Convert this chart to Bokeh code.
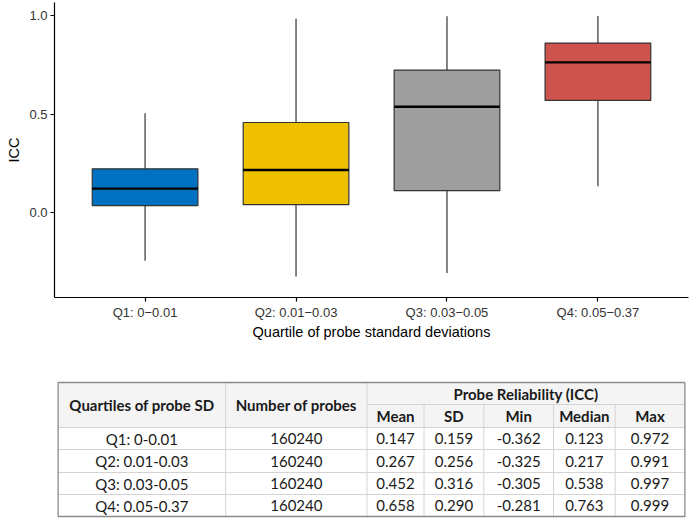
from bokeh.plotting import figure
from bokeh.models import FactorRange, Range1d, FixedTicker, NumeralTickFormatter, ColumnDataSource
from bokeh.layouts import column
from bokeh.core.properties import value
from bokeh.transform import dodge
from bokeh.embed import file_html
from bokeh.resources import INLINE

# ---------------- data ----------------
categories = ["Q1: 0\u22120.01", "Q2: 0.01\u22120.03", "Q3: 0.03\u22120.05", "Q4: 0.05\u22120.37"]
whisker_low = [-0.244, -0.323, -0.306, 0.134]
box_low = [0.036, 0.041, 0.112, 0.570]
box_median = [0.123, 0.217, 0.538, 0.763]
box_high = [0.223, 0.458, 0.724, 0.861]
whisker_high = [0.505, 0.985, 0.997, 0.999]
box_colors = ["#0070C0", "#EFC000", "#9E9E9E", "#CD534C"]
y_ticks = [0.0, 0.5, 1.0]

table_quartiles = ["Q1: 0-0.01", "Q2: 0.01-0.03", "Q3: 0.03-0.05", "Q4: 0.05-0.37"]
table_n_probes = [160240, 160240, 160240, 160240]
table_mean = [0.147, 0.267, 0.452, 0.658]
table_sd = [0.159, 0.256, 0.316, 0.290]
table_min = [-0.362, -0.325, -0.305, -0.281]
table_median = [0.123, 0.217, 0.538, 0.763]
table_max = [0.972, 0.991, 0.997, 0.999]
header_main = ["Quartiles of probe SD", "Number of probes"]
header_group = "Probe Reliability (ICC)"
header_sub = ["Mean", "SD", "Min", "Median", "Max"]

# ---------------- box plot ----------------
W, H1, H2 = 700, 345, 176
BOX_W = 0.7
p = figure(width=W, height=H1,
           x_range=FactorRange(factors=categories, range_padding=0.1, range_padding_units="absolute"),
           y_range=Range1d(-0.430, 1.067),
           output_backend="svg", toolbar_location=None,
           min_border_left=54, min_border_right=12, min_border_top=2, min_border_bottom=48)
p.outline_line_color = None
p.xgrid.grid_line_color = None
p.ygrid.grid_line_color = None
p.background_fill_color = "white"
p.border_fill_color = "white"

src = ColumnDataSource(dict(x=categories, wl=whisker_low, bl=box_low, med=box_median,
                            bh=box_high, wh=whisker_high, c=box_colors))
p.segment(x0="x", y0="bh", x1="x", y1="wh", source=src, line_color="#333333", line_width=1.2)
p.segment(x0="x", y0="bl", x1="x", y1="wl", source=src, line_color="#333333", line_width=1.2)
p.vbar(x="x", width=BOX_W, bottom="bl", top="bh", source=src, fill_color="c",
       line_color="#333333", line_width=1.2)
p.segment(x0=dodge("x", -BOX_W / 2, range=p.x_range), y0="med",
          x1=dodge("x", BOX_W / 2, range=p.x_range), y1="med", source=src,
          line_color="black", line_width=2.3)

for ax in (p.xaxis[0], p.yaxis[0]):
    ax.axis_line_color = "black"
    ax.axis_line_width = 1.2
    ax.major_tick_line_color = "black"
    ax.major_tick_line_width = 1.2
    ax.major_tick_out = 4
    ax.major_tick_in = 0
    ax.minor_tick_line_color = None
    ax.major_label_text_font = "Liberation Sans"
    ax.major_label_text_font_size = "13px"
    ax.major_label_text_color = "#333333"
    ax.axis_label_text_font = "Liberation Sans"
    ax.axis_label_text_font_size = "14.5px"
    ax.axis_label_text_font_style = "normal"
    ax.axis_label_text_color = "black"
    ax.major_label_standoff = 3

p.yaxis.ticker = FixedTicker(ticks=y_ticks)
p.yaxis.formatter = NumeralTickFormatter(format="0.0")
p.yaxis.axis_label = "ICC"
p.yaxis.axis_label_standoff = 4
p.xaxis.axis_label = "Quartile of probe standard deviations"
p.xaxis.axis_label_standoff = 1

# ---------------- table ----------------
t = figure(width=W, height=H2, x_range=Range1d(0, W), y_range=Range1d(H1 + H2, H1),
           output_backend="svg", toolbar_location=None,
           min_border=0, min_border_left=0, min_border_right=0, min_border_top=0, min_border_bottom=0)
t.axis.visible = False
t.xgrid.grid_line_color = None
t.ygrid.grid_line_color = None
t.outline_line_color = None

col_edges = [4, 189, 345, 408, 474, 551, 619, 696]
row_edges = [382, 404, 427, 449, 472, 494, 516]
font = value("Lato")
fs = "15px"

# header background
t.quad(left=[col_edges[0]], right=[col_edges[-1]], top=[row_edges[0]], bottom=[row_edges[2]],
       fill_color="#F4F4F4", line_color=None)
# inner horizontal lines
t.segment(x0=[col_edges[2]], y0=[row_edges[1]], x1=[col_edges[-1]], y1=[row_edges[1]],
          line_color="#D4D4D4", line_width=1)
t.segment(x0=[col_edges[0]] * 4, y0=row_edges[2:6], x1=[col_edges[-1]] * 4, y1=row_edges[2:6],
          line_color="#D4D4D4", line_width=1)
# vertical lines
t.segment(x0=col_edges[1:3], y0=[row_edges[0]] * 2, x1=col_edges[1:3], y1=[row_edges[-1]] * 2,
          line_color="#D4D4D4", line_width=1)
t.segment(x0=col_edges[3:7], y0=[row_edges[1]] * 4, x1=col_edges[3:7], y1=[row_edges[-1]] * 4,
          line_color="#D4D4D4", line_width=1)
# outer border
t.quad(left=[col_edges[0]], right=[col_edges[-1]], top=[row_edges[0]], bottom=[row_edges[-1]],
       fill_color=None, line_color="#8A8A8A", line_width=1.3)

centers = [(col_edges[i] + col_edges[i + 1]) / 2 for i in range(len(col_edges) - 1)]
# headers
t.text(x=centers[:2], y=[(row_edges[0] + row_edges[2]) / 2] * 2, text=header_main,
       text_align="center", text_baseline="middle", text_font=font, text_font_size=fs,
       text_font_style="bold", text_color="#1A1A1A")
t.text(x=[(col_edges[2] + col_edges[-1]) / 2], y=[(row_edges[0] + row_edges[1]) / 2],
       text=[header_group], text_align="center", text_baseline="middle", text_font=font,
       text_font_size=fs, text_font_style="bold", text_color="#1A1A1A")
t.text(x=centers[2:], y=[(row_edges[1] + row_edges[2]) / 2] * 5, text=header_sub,
       text_align="center", text_baseline="middle", text_font=font, text_font_size=fs,
       text_font_style="bold", text_color="#1A1A1A")

# body
cols_vals = [table_quartiles,
             [str(v) for v in table_n_probes],
             [f"{v:.3f}" for v in table_mean],
             [f"{v:.3f}" for v in table_sd],
             [f"{v:.3f}" for v in table_min],
             [f"{v:.3f}" for v in table_median],
             [f"{v:.3f}" for v in table_max]]
row_centers = [(row_edges[i] + row_edges[i + 1]) / 2 for i in range(2, 6)]
for ci, vals in enumerate(cols_vals):
    t.text(x=[centers[ci]] * len(vals), y=row_centers, text=vals,
           text_align="center", text_baseline="middle", text_font=font, text_font_size=fs,
           text_color="#1A1A1A")

layout = column(p, t, spacing=0)
open("out.html", "w").write(file_html(layout, INLINE))
